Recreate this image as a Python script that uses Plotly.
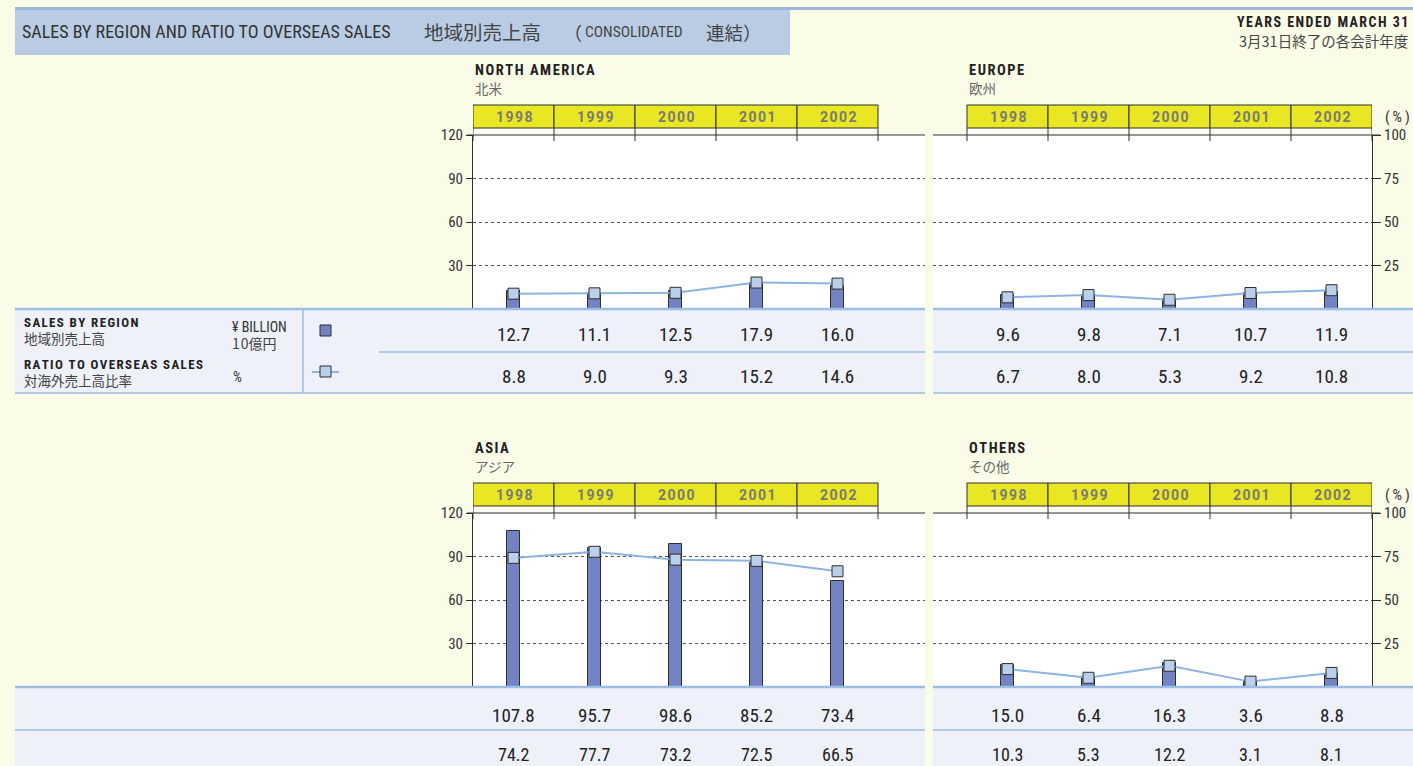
import plotly.graph_objects as go

W, H = 1413, 766

# ---- data -------------------------------------------------------------
years = ["1998", "1999", "2000", "2001", "2002"]

na_sales = [12.7, 11.1, 12.5, 17.9, 16.0]
na_ratio = [8.8, 9.0, 9.3, 15.2, 14.6]
eu_sales = [9.6, 9.8, 7.1, 10.7, 11.9]
eu_ratio = [6.7, 8.0, 5.3, 9.2, 10.8]
asia_sales = [107.8, 95.7, 98.6, 85.2, 73.4]
asia_ratio = [74.2, 77.7, 73.2, 72.5, 66.5]
oth_sales = [15.0, 6.4, 16.3, 3.6, 8.8]
oth_ratio = [10.3, 5.3, 12.2, 3.1, 8.1]

sales_ticks = [30, 60, 90, 120]
ratio_ticks = [25, 50, 75, 100]

# ---- style ------------------------------------------------------------
BG = "#FBFCE8"
TABLE_BG = "#EEF1F9"
TABLE_LINE = "#9DBDE2"
TITLE_BG = "#B9CCE4"
TOP_LINE = "#9CB6D9"
YELLOW = "#E9E723"
BAR = "#7282C2"
LINE = "#8DB3E2"
MARK = "#BAD0EA"
DARK = "#2E2E2E"
NARROW = "Roboto Condensed, Liberation Sans Narrow, DejaVu Sans Condensed, Roboto, sans-serif"
SANS = "Roboto, Liberation Sans, Arial, sans-serif"
CJK = "Noto Sans CJK JP, sans-serif"

CELL = 81  # px per year column


def px(x):
    return x / W


def py(y):
    return 1 - y / H


def spaced(s, sep="\u200a"):
    return sep.join(s)


# name, japanese name, sales, ratio, plot box (l, r, t, b), first column centre, side,
# value rows (y centre, font size)
panels = [
    ("NORTH AMERICA", "北米", na_sales, na_ratio, (473, 925, 135, 309), 513.5, "left",
     ((334, 19), (376, 19))),
    ("EUROPE", "欧州", eu_sales, eu_ratio, (933, 1372, 135, 309), 1007.5, "right",
     ((334, 19), (376, 19))),
    ("ASIA", "アジア", asia_sales, asia_ratio, (473, 925, 513, 687), 513.5, "left",
     ((715, 19), (754, 18))),
    ("OTHERS", "その他", oth_sales, oth_ratio, (933, 1372, 513, 687), 1007.5, "right",
     ((715, 19), (754, 18))),
]

fig = go.Figure()
layout_axes = {}
shapes = []
annotations = []


def rect(x0, y0, x1, y1, fill, line_color=None, line_width=0, layer="below", xref="paper"):
    shapes.append(dict(
        type="rect", xref=xref, yref="paper",
        x0=x0 if xref != "paper" else px(x0), x1=x1 if xref != "paper" else px(x1),
        y0=py(y0), y1=py(y1),
        fillcolor=fill, layer=layer,
        line=dict(color=line_color or fill, width=line_width),
    ))


def hline(x0, x1, y, color, width=1, layer="above"):
    shapes.append(dict(type="line", xref="paper", yref="paper",
                       x0=px(x0), x1=px(x1), y0=py(y), y1=py(y),
                       line=dict(color=color, width=width), layer=layer))


def vline(x, y0, y1, color, width=1, layer="above", xref="paper"):
    xv = x if xref != "paper" else px(x)
    shapes.append(dict(type="line", xref=xref, yref="paper",
                       x0=xv, x1=xv, y0=py(y0), y1=py(y1),
                       line=dict(color=color, width=width), layer=layer))


def text(x, y, s, size, color="#222", family=NARROW, xanchor="left", xref="paper"):
    annotations.append(dict(
        x=x if xref != "paper" else px(x), y=py(y), xref=xref, yref="paper",
        text=s, showarrow=False, xanchor=xanchor, yanchor="middle", borderpad=0,
        font=dict(size=size, color=color, family=family),
    ))


# ---- page furniture -----------------------------------------------------
hline(15, W, 8.5, TOP_LINE, 3, layer="below")
rect(15, 10, 790, 55, TITLE_BG)
text(21, 32, "SALES BY REGION AND RATIO TO OVERSEAS SALES", 18, "#333")
text(423, 32, "地域別売上高", 19.5, "#444", CJK)
text(563, 32, "（", 18, "#444", CJK)
text(584, 32, "CONSOLIDATED", 15.5, "#444")
text(705, 32, "連結）", 18.5, "#444", CJK)
text(1409, 22, "<b>" + spaced("YEARS ENDED MARCH 31") + "</b>", 14, "#222", xanchor="right")
text(1409, 40, "3月31日終了の各会計年度", 14.5, "#444", CJK, xanchor="right")

# table bands (upper and lower)
for (y_top, y_mid, y_bot) in [(309, 352, 393), (687, 730, 766)]:
    rect(15, y_top, 925, y_bot, TABLE_BG)
    rect(933, y_top, W, y_bot, TABLE_BG)
    hline(15, 925, y_top, TABLE_LINE, 2.5)
    hline(933, W, y_top, TABLE_LINE, 2.5)
    left_sep = 379 if y_top == 309 else 15
    hline(left_sep, 925, y_mid, TABLE_LINE, 1.5)
    hline(933, W, y_mid, TABLE_LINE, 1.5)
    if y_bot < H:
        hline(15, 925, y_bot, TABLE_LINE, 1.5)
        hline(933, W, y_bot, TABLE_LINE, 1.5)

vline(303, 310, 393, TABLE_LINE, 1.5)

# row captions and key
text(23, 322.5, "<b>" + spaced("SALES BY REGION") + "</b>", 13, "#222")
text(23, 338, "地域別売上高", 13.5, "#444", CJK)
text(231, 327, "¥ BILLION", 14, "#333")
text(231, 343, "1\u200a0億円", 14, "#444", CJK)
text(23, 364.5, "<b>" + spaced("RATIO TO OVERSEAS SALES") + "</b>", 13, "#222")
text(23, 380, "対海外売上高比率", 13.5, "#444", CJK)
text(232, 377, "%", 14, "#333")

rect(320, 325, 331, 336, BAR, DARK, 1, layer="above")
hline(312, 339, 372, LINE, 2)
rect(320, 366, 331, 377, MARK, DARK, 1, layer="above")

# ---- panels -----------------------------------------------------------
for i, (name, jname, sales, ratio, box, c0, side, rows) in enumerate(panels):
    l, r, t, b = box
    n = i + 1
    xid = "x" if n == 1 else f"x{n}"
    ys_n, yr_n = 2 * i + 1, 2 * i + 2
    ys_id = "y" if ys_n == 1 else f"y{ys_n}"
    yr_id = f"y{yr_n}"
    xa_name = "xaxis" if n == 1 else f"xaxis{n}"
    ys_name = "yaxis" if ys_n == 1 else f"yaxis{ys_n}"
    yr_name = f"yaxis{yr_n}"

    layout_axes[xa_name] = dict(
        domain=[px(l), px(r)], anchor=ys_id, type="category",
        categoryorder="array", categoryarray=years,
        range=[(l - c0) / CELL, (r - c0) / CELL],
        showticklabels=False, showgrid=False, zeroline=False, showline=False, ticks="",
        automargin=False,
    )
    left = side == "left"
    layout_axes[ys_name] = dict(
        domain=[py(b), py(t)], anchor=xid, range=[0, 120],
        tickvals=sales_ticks, ticktext=[str(v) for v in sales_ticks],
        showticklabels=left, ticks="outside" if left else "", ticklen=6, tickcolor=DARK,
        showline=left, linecolor=DARK, linewidth=1,
        showgrid=True, gridcolor="#555", griddash="dot", gridwidth=1, zeroline=False,
        tickfont=dict(family=NARROW, size=15, color="#333"), automargin=False,
    )
    layout_axes[yr_name] = dict(
        domain=[py(b), py(t)], anchor=xid, overlaying=ys_id, side="right", range=[0, 100],
        tickvals=ratio_ticks, ticktext=[str(v) for v in ratio_ticks],
        showticklabels=not left, ticks="" if left else "outside", ticklen=8, tickcolor=DARK,
        showline=not left, linecolor=DARK, linewidth=1,
        showgrid=False, zeroline=False,
        tickfont=dict(family=NARROW, size=15, color="#333"), automargin=False,
    )

    fig.add_trace(go.Bar(
        x=years, y=sales, xaxis=xid, yaxis=ys_id, width=0.16,
        marker=dict(color=BAR, line=dict(color=DARK, width=1)), showlegend=False,
    ))
    fig.add_trace(go.Scatter(
        x=years, y=ratio, xaxis=xid, yaxis=yr_id, mode="lines+markers",
        line=dict(color=LINE, width=2),
        marker=dict(symbol="square", size=11, color=MARK, line=dict(color=DARK, width=1)),
        showlegend=False, cliponaxis=False,
    ))

    # panel heading
    hx = l + 1 if left else 968
    text(hx, t - 65, "<b>" + spaced(name) + "</b>", 14.5, "#222")
    text(hx, t - 47, jname, 13.5, "#666", CJK)

    # year header cells (positions on the category scale)
    for k, yr in enumerate(years):
        rect(k - 0.5, t - 30, k + 0.5, t - 7, YELLOW, DARK, 1, layer="above", xref=xid)
        text(k, t - 18.5, "<b>" + spaced(yr) + "</b>", 14, "#7a7a70", SANS,
             xanchor="center", xref=xid)
    rect(-0.5, t - 7, len(years) - 0.5, t, "#FDFDF4", layer="below", xref=xid)
    for k in range(len(years) + 1):
        vline(k - 0.5, t - 7, t + 6, DARK, 1, xref=xid)

    # solid top rule at the 120 / 100% level
    if left:
        hline(l - 6, r, t, DARK, 1)
    else:
        hline(l, r + 8, t, DARK, 1)
        text(r + 12, t - 18, spaced("(%)", "\u2009"), 15, "#333")

    # table values
    (row1_y, row1_size), (row2_y, row2_size) = rows
    for k in range(len(years)):
        text(k, row1_y, f"{sales[k]:.1f}", row1_size, "#222", xanchor="center", xref=xid)
        text(k, row2_y, f"{ratio[k]:.1f}", row2_size, "#222", xanchor="center", xref=xid)

fig.update_layout(
    width=W, height=H, margin=dict(l=0, r=0, t=0, b=0, pad=0, autoexpand=False),
    paper_bgcolor=BG, plot_bgcolor="white",
    shapes=shapes, annotations=annotations, showlegend=False, bargap=0,
    **layout_axes,
)

fig.write_html("out.html")
